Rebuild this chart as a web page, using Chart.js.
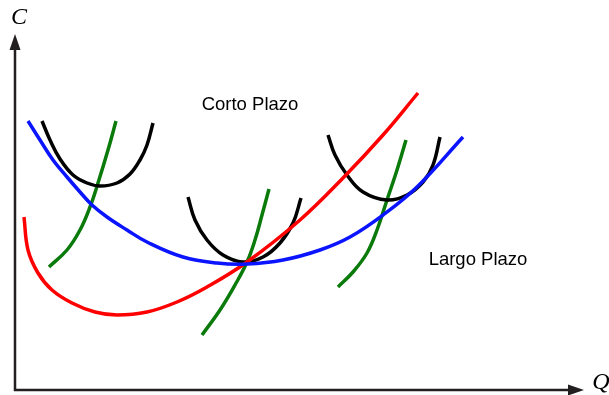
<!DOCTYPE html>
<html><head><meta charset="utf-8">
<script src="https://cdn.jsdelivr.net/npm/chart.js@4.4.1/dist/chart.umd.min.js"></script>
<style>html,body{margin:0;padding:0;background:#fff;}#wrap{width:609px;height:395px;position:relative;}</style>
</head><body><div id="wrap"><canvas id="c" width="609" height="395"></canvas></div>
<script>
// Long-run average cost (blue)
const blueQ = [13,25,38,52,65,77,92,112,132,168,202,232,268,305,335,368,402,448];
const blueC = [269,250,230,213,198,185,173,160,148,133,127,126,130,140,153,175,203,253];
// Long-run marginal cost (red)
const redQ = [9,13,23,37,57,80,102,132,162,192,232,285,328,368,403];
const redC = [173,140,117,100,87,78,75,78,88,103,128,170,212,255,297];
// Short-run average cost curves (black)
const sac1Q = [27,35,45,58,72,85,102,115,125,132,138];
const sac1C = [269,250,231,215,207,204,207,216,230,245,267];
const sac2Q = [173,180,192,208,228,248,265,278,286];
const sac2C = [193,170,150,135,128,133,147,167,192];
const sac3Q = [313,320,332,348,372,392,408,418,425];
const sac3C = [255,235,215,198,190,195,208,225,253];
// Short-run marginal cost curves (green)
const smc1Q = [34,52,65,75,83,93,101];
const smc1C = [123,140,160,183,207,240,269];
const smc2Q = [187,205,220,232,240,247,254];
const smc2C = [55,80,105,128,150,175,201];
const smc3Q = [323,338,352,362,372,382,391];
const smc3C = [103,118,137,160,190,220,250];
// Axis extents and labels
const axisMaxQ = 565, axisMaxC = 352;
const labels = {corto: "Corto Plazo", largo: "Largo Plazo", yAxis: "C", xAxis: "Q"};

const pts = (xs, ys) => xs.map((x, i) => ({x, y: ys[i]}));
const ds = (xs, ys, color) => ({data: pts(xs, ys), borderColor: color, borderWidth: 3.5,
  pointRadius: 0, tension: 0.4, fill: false, clip: false, borderCapStyle: 'butt', borderJoinStyle: 'round'});

const overlay = {
  id: 'overlay',
  afterDraw(chart) {
    const ctx = chart.ctx, xs = chart.scales.x, ys = chart.scales.y;
    const ox = xs.getPixelForValue(0), oy = ys.getPixelForValue(0);
    const tx = xs.getPixelForValue(axisMaxQ), ty = ys.getPixelForValue(axisMaxC);
    ctx.save();
    ctx.strokeStyle = '#231f20'; ctx.fillStyle = '#231f20'; ctx.lineWidth = 2.5;
    ctx.beginPath(); ctx.moveTo(ox, oy + 1); ctx.lineTo(ox, ty + 10); ctx.stroke();
    ctx.beginPath(); ctx.moveTo(ox - 1, oy); ctx.lineTo(tx - 10, oy); ctx.stroke();
    ctx.beginPath(); ctx.moveTo(ox, ty - 4); ctx.lineTo(ox - 5.5, ty + 12); ctx.lineTo(ox + 5.5, ty + 12); ctx.closePath(); ctx.fill();
    ctx.beginPath(); ctx.moveTo(tx + 4, oy); ctx.lineTo(tx - 12, oy - 5.5); ctx.lineTo(tx - 12, oy + 5.5); ctx.closePath(); ctx.fill();
    ctx.fillStyle = '#000';
    ctx.font = 'italic 24px "Liberation Serif", "DejaVu Serif", serif';
    ctx.textAlign = 'center'; ctx.textBaseline = 'middle';
    ctx.fillText(labels.yAxis, ox + 4, 18);
    ctx.fillText(labels.xAxis, 601, oy - 7);
    ctx.font = '18.5px "Liberation Sans", Arial, sans-serif';
    ctx.fillText(labels.corto, xs.getPixelForValue(235), ys.getPixelForValue(285));
    ctx.fillText(labels.largo, xs.getPixelForValue(463), ys.getPixelForValue(130));
    ctx.restore();
  }
};

new Chart(document.getElementById('c'), {
  type: 'line',
  data: { datasets: [
    ds(blueQ, blueC, '#0a14ff'),
    ds(redQ, redC, '#ff0000'),
    ds(sac1Q, sac1C, '#000000'),
    ds(sac2Q, sac2C, '#000000'),
    ds(sac3Q, sac3C, '#000000'),
    ds(smc1Q, smc1C, '#0a7a0a'),
    ds(smc2Q, smc2C, '#0a7a0a'),
    ds(smc3Q, smc3C, '#0a7a0a')
  ]},
  options: {
    responsive: false, animation: false, events: [],
    layout: {padding: 0},
    plugins: {legend: {display: false}, tooltip: {enabled: false}},
    scales: {
      x: {type: 'linear', min: -15, max: 594, display: false},
      y: {type: 'linear', min: -5, max: 390, display: false}
    }
  },
  plugins: [overlay]
});
</script></body></html>
